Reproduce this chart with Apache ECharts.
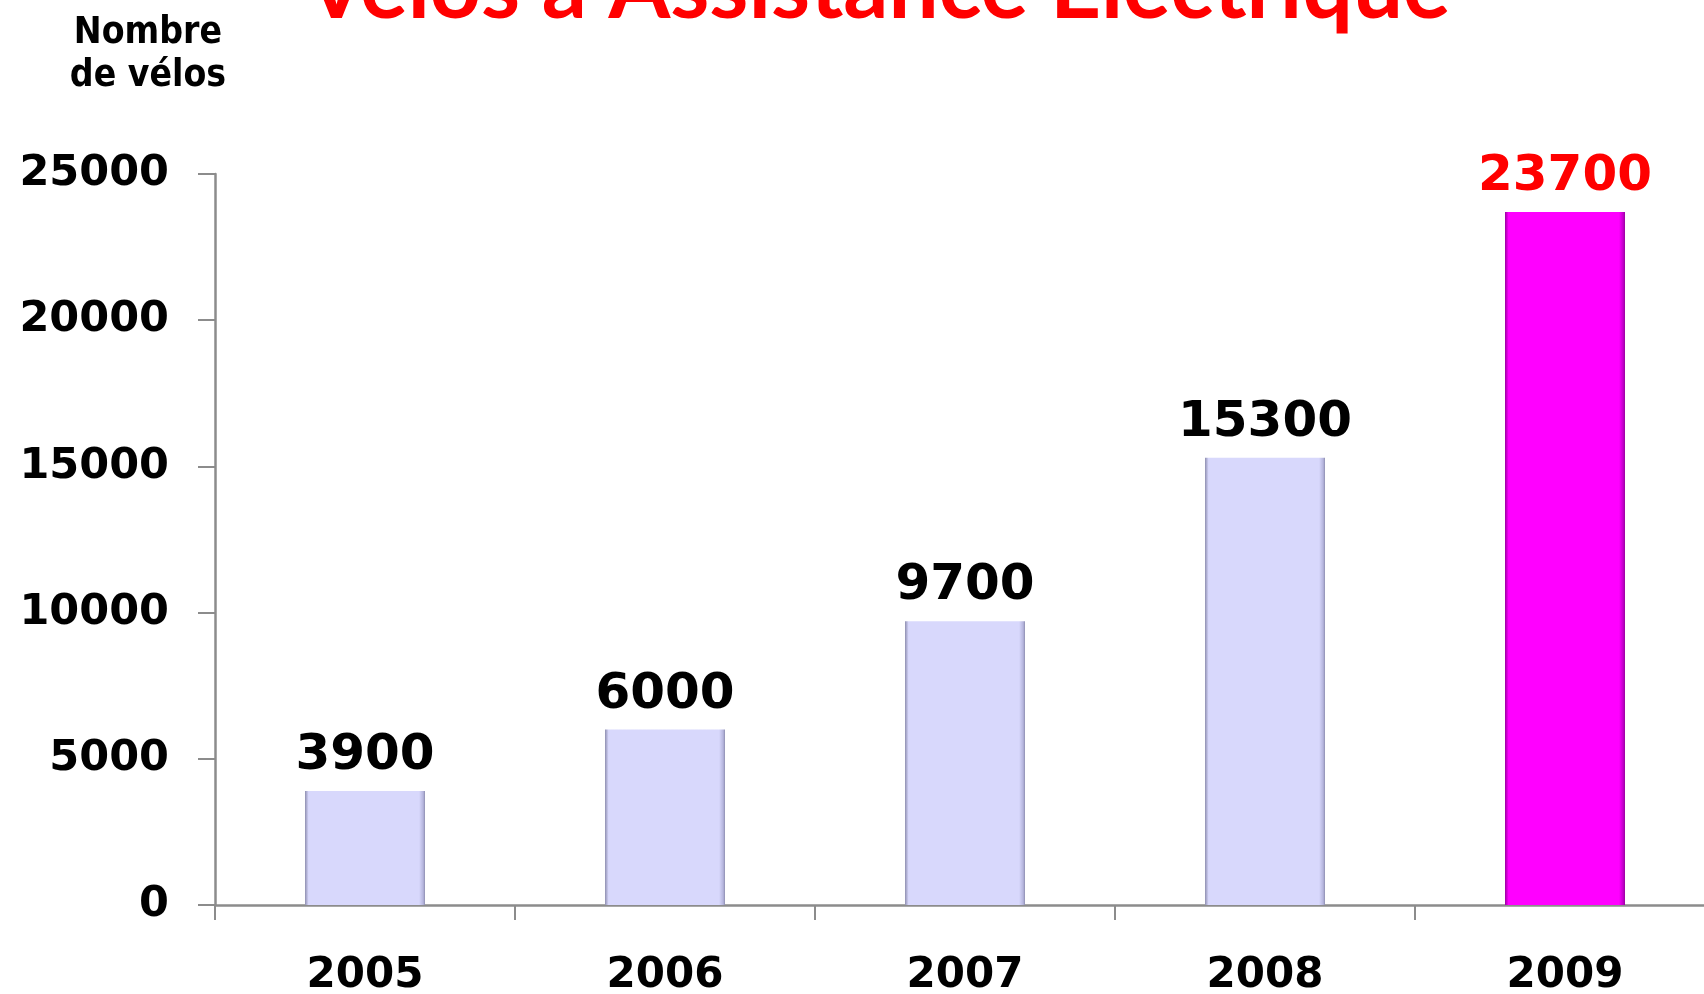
<!DOCTYPE html>
<html>
<head>
<meta charset="utf-8">
<script src="https://cdn.jsdelivr.net/npm/echarts@6/dist/echarts.min.js"></script>
<style>
html,body{margin:0;padding:0;background:#fff;}
#chart{width:1704px;height:994px;}
</style>
</head>
<body>
<div id="chart"></div>
<script>
const titleText = 'Vélos à Assistance Electrique';
const yAxisName = 'Nombre\nde vélos';
const categories = ['2005', '2006', '2007', '2008', '2009'];
const values = [3900, 6000, 9700, 15300, 23700];
const highlightIndex = 4;

const chart = echarts.init(document.getElementById('chart'), null, {renderer: 'canvas'});

function bevel(base, light, dark) {
  return new echarts.graphic.LinearGradient(0, 0, 1, 0, [
    {offset: 0, color: dark},
    {offset: 0.03, color: base},
    {offset: 0.95, color: base},
    {offset: 0.985, color: light},
    {offset: 1, color: dark}
  ]);
}

const barData = values.map((v, i) => {
  const hi = i === highlightIndex;
  return {
    value: v,
    itemStyle: {
      color: hi ? bevel('#ff00ff', '#c000c8', '#9a00a0') : bevel('#d8d8fc', '#b4b4dc', '#8e8eb0')
    },
    label: {color: hi ? '#ff0000' : '#000000'}
  };
});

const option = {
  animation: false,
  backgroundColor: '#ffffff',
  grid: {left: 215, top: 174, bottom: 89, right: -11, containLabel: false, outerBoundsMode: 'none'},
  graphic: [
    {
      type: 'text', x: 878, y: -11,
      style: {
        text: titleText, fill: '#ff0000',
        font: 'bold 89px Lato, "Liberation Sans", sans-serif',
        textAlign: 'center', textVerticalAlign: 'middle'
      }
    },
    {
      type: 'text', x: 148, y: 12,
      style: {
        text: yAxisName, fill: '#000000',
        font: 'bold 37px "DejaVu Sans Condensed", "DejaVu Sans", sans-serif',
        lineHeight: 43,
        textAlign: 'center', textVerticalAlign: 'top'
      }
    }
  ],
  xAxis: {
    type: 'category',
    data: categories,
    axisLine: {lineStyle: {color: '#8c8c8c', width: 2.5}},
    axisTick: {show: true, length: 15, lineStyle: {color: '#8c8c8c', width: 2}},
    axisLabel: {
      margin: 50, color: '#000',
      fontFamily: '"DejaVu Sans", sans-serif', fontWeight: 'bold', fontSize: 42
    }
  },
  yAxis: {
    type: 'value',
    min: 0, max: 25000, interval: 5000,
    axisLine: {show: true, lineStyle: {color: '#8c8c8c', width: 2.5}},
    axisTick: {show: true, length: 17, lineStyle: {color: '#8c8c8c', width: 2}},
    splitLine: {show: false},
    axisLabel: {
      margin: 46, color: '#000',
      fontFamily: '"DejaVu Sans", sans-serif', fontWeight: 'bold', fontSize: 43,
      formatter: v => String(v)
    }
  },
  series: [{
    type: 'bar',
    data: barData,
    barWidth: 120,
    label: {
      show: true, position: 'top', distance: 10,
      fontFamily: '"DejaVu Sans", sans-serif', fontWeight: 'bold', fontSize: 50
    }
  }]
};
chart.setOption(option);
</script>
</body>
</html>
